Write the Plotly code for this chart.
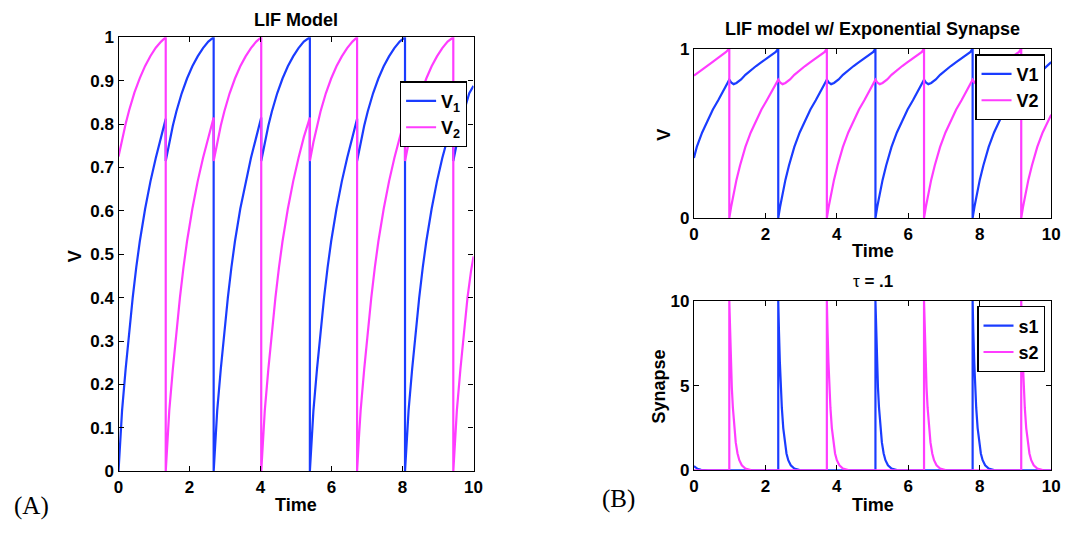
import plotly.graph_objects as go

# ---------------- Panel A : LIF model (time, V) ----------------
A_V1_T = [0, 0.05, 0.1, 0.2, 0.3, 0.4, 0.5, 0.6, 0.75, 0.9, 1.05, 1.2, 1.33,
          1.33, 1.43, 1.53, 1.63, 1.78, 1.93, 2.08, 2.23, 2.38, 2.53, 2.68,
          2.68, 2.73, 2.78, 2.88, 2.98, 3.08, 3.18, 3.28, 3.43, 3.58, 3.73, 3.88, 4.02,
          4.02, 4.12, 4.22, 4.32, 4.47, 4.62, 4.77, 4.92, 5.07, 5.22, 5.39,
          5.39, 5.44, 5.49, 5.59, 5.69, 5.79, 5.89, 5.99, 6.14, 6.29, 6.44, 6.59, 6.72,
          6.72, 6.82, 6.92, 7.02, 7.17, 7.32, 7.47, 7.62, 7.77, 7.92, 8.07,
          8.07, 8.12, 8.17, 8.27, 8.37, 8.47, 8.57, 8.67, 8.82, 8.97, 9.12, 9.27, 9.43,
          9.43, 9.53, 9.63, 9.73, 9.88, 10.0]
A_V1_V = [0, .075, .14, .235, .32, .40, .47, .53, .605, .668, .722, .77, .812,
          .715, .758, .796, .829, .871, .905, .933, .956, .975, .99, 1.0,
          0, .075, .14, .235, .32, .40, .47, .53, .605, .668, .722, .77, .815,
          .715, .758, .796, .829, .871, .905, .933, .956, .975, .99, 1.0,
          0, .075, .14, .235, .32, .40, .47, .53, .605, .668, .722, .77, .812,
          .715, .758, .796, .829, .871, .905, .933, .956, .975, .99, 1.0,
          0, .075, .14, .235, .32, .40, .47, .53, .605, .668, .722, .77, .815,
          .715, .758, .796, .829, .871, .888]

A_V2_T = [0, 0.1, 0.2, 0.3, 0.45, 0.6, 0.75, 0.9, 1.05, 1.2, 1.33,
          1.33, 1.38, 1.43, 1.53, 1.63, 1.73, 1.83, 1.93, 2.08, 2.23, 2.38, 2.53, 2.68,
          2.68, 2.78, 2.88, 2.98, 3.13, 3.28, 3.43, 3.58, 3.73, 3.88, 4.02,
          4.02, 4.07, 4.12, 4.22, 4.32, 4.42, 4.52, 4.62, 4.77, 4.92, 5.07, 5.22, 5.39,
          5.39, 5.49, 5.59, 5.69, 5.84, 5.99, 6.14, 6.29, 6.44, 6.59, 6.72,
          6.72, 6.77, 6.82, 6.92, 7.02, 7.12, 7.22, 7.32, 7.47, 7.62, 7.77, 7.92, 8.07,
          8.07, 8.17, 8.27, 8.37, 8.52, 8.67, 8.82, 8.97, 9.12, 9.27, 9.43,
          9.43, 9.48, 9.53, 9.63, 9.73, 9.83, 9.93, 10.0]
A_V2_V = [.725, .765, .80, .832, .873, .906, .934, .957, .976, .99, 1.0,
          0, .075, .14, .235, .32, .40, .47, .53, .605, .668, .722, .77, .815,
          .715, .758, .796, .829, .871, .905, .933, .956, .975, .99, 1.0,
          0, .075, .14, .235, .32, .40, .47, .53, .605, .668, .722, .77, .815,
          .715, .758, .796, .829, .871, .905, .933, .956, .975, .99, 1.0,
          0, .075, .14, .235, .32, .40, .47, .53, .605, .668, .722, .77, .815,
          .715, .758, .796, .829, .871, .905, .933, .956, .975, .99, 1.0,
          0, .075, .14, .235, .32, .40, .462, .495]

# ---------------- Panel B (top): LIF with exponential synapse ----------------
B_V1_T = [0, 0.08, 0.23, 0.38, 0.53, 0.68, 0.83, 0.99,
          1.04, 1.11, 1.19, 1.32, 1.44, 1.59, 1.74, 1.89, 2.04, 2.19, 2.29, 2.36,
          2.36, 2.41, 2.46, 2.56, 2.66, 2.81, 2.96, 3.11, 3.26, 3.41, 3.56, 3.72,
          3.77, 3.84, 3.92, 4.05, 4.17, 4.32, 4.47, 4.62, 4.77, 4.92, 5.02, 5.08,
          5.08, 5.13, 5.18, 5.28, 5.38, 5.53, 5.68, 5.83, 5.98, 6.13, 6.28, 6.44,
          6.49, 6.56, 6.64, 6.77, 6.89, 7.04, 7.19, 7.34, 7.49, 7.64, 7.74, 7.80,
          7.80, 7.85, 7.90, 8.00, 8.10, 8.25, 8.40, 8.55, 8.70, 8.85, 9.00, 9.16,
          9.21, 9.28, 9.36, 9.49, 9.61, 9.76, 9.91, 10.0]
B_V1_V = [.355, .42, .505, .575, .64, .695, .75, .816,
          .80, .79, .797, .818, .845, .873, .897, .92, .942, .963, .98, 1.0,
          0, .065, .125, .225, .31, .42, .505, .575, .64, .695, .75, .816,
          .80, .79, .797, .818, .845, .873, .897, .92, .942, .963, .98, 1.0,
          0, .065, .125, .225, .31, .42, .505, .575, .64, .695, .75, .816,
          .80, .79, .797, .818, .845, .873, .897, .92, .942, .963, .98, 1.0,
          0, .065, .125, .225, .31, .42, .505, .575, .64, .695, .75, .816,
          .80, .79, .797, .818, .845, .873, .90, .92]

B_V2_T = [0, 0.15, 0.3, 0.45, 0.6, 0.75, 0.9, 0.99,
          0.99, 1.04, 1.09, 1.19, 1.29, 1.44, 1.59, 1.74, 1.89, 2.04, 2.19, 2.36,
          2.41, 2.48, 2.56, 2.69, 2.81, 2.96, 3.11, 3.26, 3.41, 3.56, 3.66, 3.72,
          3.72, 3.77, 3.82, 3.92, 4.02, 4.17, 4.32, 4.47, 4.62, 4.77, 4.92, 5.08,
          5.13, 5.20, 5.28, 5.41, 5.53, 5.68, 5.83, 5.98, 6.13, 6.28, 6.38, 6.44,
          6.44, 6.49, 6.54, 6.64, 6.74, 6.89, 7.04, 7.19, 7.34, 7.49, 7.64, 7.80,
          7.85, 7.92, 8.00, 8.13, 8.25, 8.40, 8.55, 8.70, 8.85, 9.00, 9.10, 9.16,
          9.16, 9.21, 9.26, 9.36, 9.46, 9.61, 9.76, 9.91, 10.0]
B_V2_V = [.84, .865, .888, .91, .933, .955, .98, 1.0,
          0, .065, .125, .225, .31, .42, .505, .575, .64, .695, .75, .816,
          .80, .79, .797, .818, .845, .873, .897, .92, .942, .963, .98, 1.0,
          0, .065, .125, .225, .31, .42, .505, .575, .64, .695, .75, .816,
          .80, .79, .797, .818, .845, .873, .897, .92, .942, .963, .98, 1.0,
          0, .065, .125, .225, .31, .42, .505, .575, .64, .695, .75, .816,
          .80, .79, .797, .818, .845, .873, .897, .92, .942, .963, .98, 1.0,
          0, .065, .125, .225, .31, .42, .505, .575, .61]

# ---------------- Panel B (bottom): synapse variables ----------------
B_S1_T = [0, 0.05, 0.1, 0.2, 0.3, 0.4, 2.36,
          2.36, 2.38, 2.405, 2.43, 2.46, 2.50, 2.54, 2.59, 2.64, 2.71, 2.81, 2.96, 3.1, 5.08,
          5.08, 5.10, 5.125, 5.15, 5.18, 5.22, 5.26, 5.31, 5.36, 5.43, 5.53, 5.68, 5.8, 7.80,
          7.80, 7.82, 7.845, 7.87, 7.90, 7.94, 7.98, 8.03, 8.08, 8.15, 8.25, 8.40, 8.55, 10.0]
B_S1_V = [.25, .15, .09, .035, .01, 0, 0,
          10, 8.2, 6.4, 4.9, 3.7, 2.5, 1.65, 1.0, 0.6, 0.3, 0.11, 0.02, 0, 0,
          10, 8.2, 6.4, 4.9, 3.7, 2.5, 1.65, 1.0, 0.6, 0.3, 0.11, 0.02, 0, 0,
          10, 8.2, 6.4, 4.9, 3.7, 2.5, 1.65, 1.0, 0.6, 0.3, 0.11, 0.02, 0, 0]

B_S2_T = [0, 0.99,
          0.99, 1.01, 1.035, 1.06, 1.09, 1.13, 1.17, 1.22, 1.27, 1.34, 1.44, 1.59, 1.75, 3.72,
          3.72, 3.74, 3.765, 3.79, 3.82, 3.86, 3.90, 3.95, 4.00, 4.07, 4.17, 4.32, 4.5, 6.44,
          6.44, 6.46, 6.485, 6.51, 6.54, 6.58, 6.62, 6.67, 6.72, 6.79, 6.89, 7.04, 7.2, 9.16,
          9.16, 9.18, 9.205, 9.23, 9.26, 9.30, 9.34, 9.39, 9.44, 9.51, 9.61, 9.76, 9.9, 10.0]
B_S2_V = [0, 0,
          10, 8.2, 6.4, 4.9, 3.7, 2.5, 1.65, 1.0, 0.6, 0.3, 0.11, 0.02, 0, 0,
          10, 8.2, 6.4, 4.9, 3.7, 2.5, 1.65, 1.0, 0.6, 0.3, 0.11, 0.02, 0, 0,
          10, 8.2, 6.4, 4.9, 3.7, 2.5, 1.65, 1.0, 0.6, 0.3, 0.11, 0.02, 0, 0,
          10, 8.2, 6.4, 4.9, 3.7, 2.5, 1.65, 1.0, 0.6, 0.3, 0.11, 0.02, 0, 0]

X_TICKS = [0, 2, 4, 6, 8, 10]
A_Y_TICKS = [0, 0.1, 0.2, 0.3, 0.4, 0.5, 0.6, 0.7, 0.8, 0.9, 1]
A_Y_TICKTEXT = ["0", "0.1", "0.2", "0.3", "0.4", "0.5", "0.6", "0.7", "0.8", "0.9", "1"]
BV_Y_TICKS = [0, 1]
BS_Y_TICKS = [0, 5, 10]

BLUE = "#1a3cff"
PINK = "#ff3cff"
W, H = 1078, 537
FONT = "Liberation Sans, Arial, Helvetica, sans-serif"
SERIF = "Liberation Serif, DejaVu Serif, serif"


def px(x):
    return x / W


def py(y):
    return 1 - y / H


fig = go.Figure()
line_w = 2.2
fig.add_trace(go.Scatter(x=A_V1_T, y=A_V1_V, mode="lines", name="V<sub>1</sub>",
                         line=dict(color=BLUE, width=line_w), xaxis="x", yaxis="y", legend="legend"))
fig.add_trace(go.Scatter(x=A_V2_T, y=A_V2_V, mode="lines", name="V<sub>2</sub>",
                         line=dict(color=PINK, width=line_w), xaxis="x", yaxis="y", legend="legend"))
fig.add_trace(go.Scatter(x=B_V1_T, y=B_V1_V, mode="lines", name="V1",
                         line=dict(color=BLUE, width=line_w), xaxis="x2", yaxis="y2", legend="legend2"))
fig.add_trace(go.Scatter(x=B_V2_T, y=B_V2_V, mode="lines", name="V2",
                         line=dict(color=PINK, width=line_w), xaxis="x2", yaxis="y2", legend="legend2"))
fig.add_trace(go.Scatter(x=B_S1_T, y=B_S1_V, mode="lines", name="s1",
                         line=dict(color=BLUE, width=line_w), xaxis="x3", yaxis="y3", legend="legend3"))
fig.add_trace(go.Scatter(x=B_S2_T, y=B_S2_V, mode="lines", name="s2",
                         line=dict(color=PINK, width=line_w), xaxis="x3", yaxis="y3", legend="legend3"))

axis_common = dict(showline=True, linecolor="black", linewidth=1.3, mirror="ticks",
                   ticks="inside", ticklen=5, tickwidth=1.3, tickcolor="black",
                   showgrid=False, zeroline=False,
                   tickfont=dict(family=FONT, size=17, color="black", weight="bold"))

leg_common = dict(xanchor="left", yanchor="top", bgcolor="white",
                  bordercolor="black", borderwidth=1.3, itemwidth=30,
                  font=dict(family=FONT, size=18, color="black", weight="bold"))

fig.update_layout(
    width=W, height=H, margin=dict(l=0, r=0, t=0, b=0),
    paper_bgcolor="white", plot_bgcolor="white",
    font=dict(family=FONT, size=17, color="black", weight="bold"),
    xaxis=dict(domain=[px(115), px(474.7)], range=[0, 10], tickvals=X_TICKS, anchor="y", **axis_common),
    yaxis=dict(domain=[py(479.3), py(29.3)], range=[0, 1], tickvals=A_Y_TICKS,
               ticktext=A_Y_TICKTEXT, anchor="x", **axis_common),
    xaxis2=dict(domain=[px(698), px(1060)], range=[0, 10], tickvals=X_TICKS, anchor="y2", **axis_common),
    yaxis2=dict(domain=[py(216.7), py(41)], range=[0, 1], tickvals=BV_Y_TICKS, anchor="x2", **axis_common),
    xaxis3=dict(domain=[px(698), px(1060)], range=[0, 10], tickvals=X_TICKS, anchor="y3", **axis_common),
    yaxis3=dict(domain=[py(478.3), py(302.7)], range=[0, 10], tickvals=BS_Y_TICKS, anchor="x3", **axis_common),
    legend=dict(x=px(400), y=py(75), **leg_common),
    legend2=dict(x=px(983), y=py(47), **leg_common),
    legend3=dict(x=px(985), y=py(308), **leg_common),
    showlegend=True,
)

ann_font = dict(family=FONT, size=18, color="black", weight="bold")
texts = [
    ("LIF Model", 295, 11, 0, ann_font),
    ("LIF model w/ Exponential Synapse", 879, 21, 0, ann_font),
    ("<span style='font-weight:normal'>τ</span> = .1", 879, 283, 0,
     dict(family=FONT, size=17, color="black", weight="bold")),
    ("Time", 295, 514, 0, ann_font),
    ("Time", 879, 251, 0, ann_font),
    ("Time", 879, 514, 0, ann_font),
    ("V", 70.6, 256.6, -90, ann_font),
    ("V", 668, 130, -90, ann_font),
    ("Synapse", 663, 391, -90, ann_font),
    ("(A)", 27, 515, 0, dict(family=SERIF, size=25, color="black", weight="normal")),
    ("(B)", 622, 508, 0, dict(family=SERIF, size=25, color="black", weight="normal")),
]
for txt, x, y, ang, f in texts:
    fig.add_annotation(text=txt, x=px(x), y=py(y), xref="paper", yref="paper",
                       xanchor="center", yanchor="middle", showarrow=False,
                       textangle=ang, font=f)

POST = ("document.documentElement.style.margin='0';"
        "document.documentElement.style.overflow='hidden';"
        "document.body.style.margin='0';document.body.style.padding='0';"
        "document.body.style.overflow='hidden';"
        "var d=document.getElementById('{plot_id}');"
        "d.style.position='absolute';d.style.left='0px';d.style.top='0px';")

fig.write_html("out.html", config={"displayModeBar": False}, post_script=POST)
